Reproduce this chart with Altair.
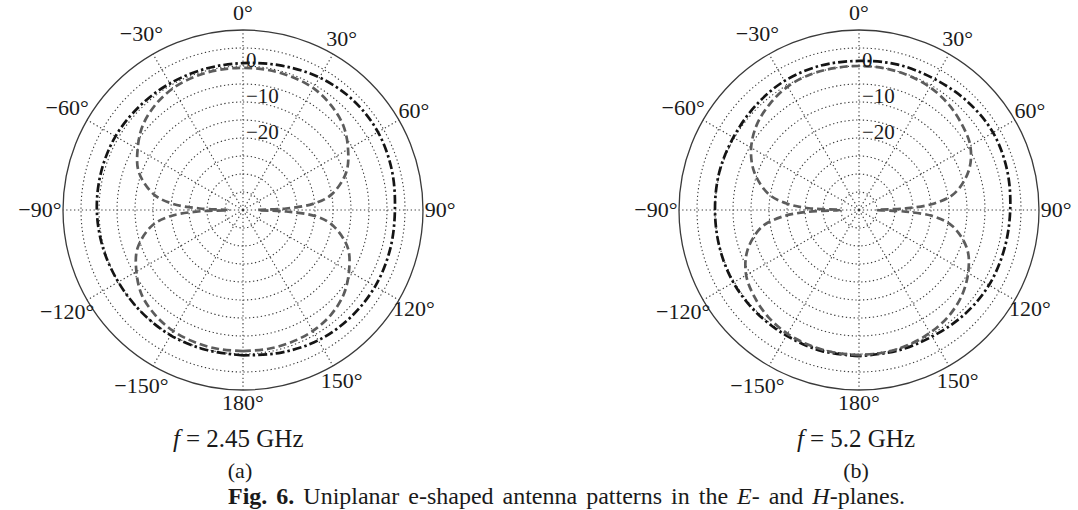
import math
import altair as alt
import pandas as pd

# ---------------- values ----------------
# E-plane (dashed) readings, angle in degrees (0 = top, clockwise), level in dB
ANG_E = [-180, -170, -160, -150, -140, -130, -120, -110, -100, -95, -92, -90, -88, -85,
         -80, -70, -60, -50, -40, -30, -20, -10, 0, 10, 20, 30, 40, 50, 60, 70, 80,
         85, 88, 90, 92, 95, 100, 110, 120, 130, 140, 150, 160, 170, 180]
E_245 = [-0.8, -0.8, -0.9, -1.2, -2.0, -3.3, -5.8, -8.8, -14.2, -19.5, -27.0, -36.0, -28.0, -20.5,
         -14.8, -9.2, -6.2, -3.6, -2.0, -1.0, -0.6, -0.5, -0.5, -0.5, -0.6, -0.9, -2.0, -3.6, -6.3, -9.5, -15.0,
         -20.5, -28.0, -36.0, -28.0, -19.5, -14.5, -9.0, -6.0, -3.5, -2.0, -1.2, -0.9, -0.8, -0.8]
E_52 = [0.3, 0.2, 0.0, -0.3, -1.0, -2.2, -3.8, -7.0, -12.5, -18.5, -26.0, -35.0, -26.0, -20.0,
        -14.5, -9.0, -5.4, -3.0, -1.5, -0.4, 0.0, 0.0, 0.0, 0.0, -0.2, -0.6, -1.5, -2.8, -4.3, -7.5, -13.0,
        -19.0, -27.0, -35.0, -27.0, -19.0, -13.5, -8.0, -5.0, -2.8, -1.4, -0.6, -0.1, 0.2, 0.3]

# H-plane (dash-dot) readings
ANG_H = [-180, -165, -150, -135, -120, -105, -90, -75, -60, -45, -30, -15, 0,
         15, 30, 45, 60, 75, 90, 105, 120, 135, 150, 165, 180]
H_245 = [0.4, 0.2, 0.2, 0.0, 0.0, 0.3, 0.6, 0.8, 0.9, 0.7, 0.6, 0.6, 0.8,
         1.5, 2.5, 3.2, 3.3, 2.8, 2.2, 2.3, 2.4, 2.2, 1.8, 1.0, 0.4]
H_52 = [0.6, 0.5, 0.3, 0.3, 0.3, 0.1, 0.0, 0.2, 0.3, 0.8, 1.4, 1.5, 1.4,
        1.8, 2.0, 2.6, 3.0, 2.6, 2.0, 1.8, 1.7, 1.2, 0.6, 0.5, 0.6]

RING_LEVELS = [-35, -30, -25, -20, -15, -10, -5, 0, 5]
OUTER_LEVEL = [10]
SPOKE_ANGLES = [0, 30, 60, 90, 120, 150, 180, 210, 240, 270, 300, 330]
TICK_ANGLES = [0, 30, 60, 90, 120, 150, 180, -150, -120, -90, -60, -30]
TICK_TEXT = ["0°", "30°", "60°", "90°", "120°", "150°", "180°",
             "−150°", "−120°", "−90°", "−60°", "−30°"]
DB_LABEL_VALUES = [0, -10, -20]
DB_LABEL_TEXT = ["0", "−10", "−20"]
FREQ_TEXT = ["= 2.45 GHz", "= 5.2 GHz"]
PANEL_TAGS = ["(a)", "(b)"]
CAPTION = [("Fig. 6.", "bold"),
           (" Uniplanar e-shaped antenna patterns in the ", "reg"),
           ("E", "ital"), ("- and ", "reg"), ("H", "ital"), ("-planes.", "reg")]

# ---------------- layout / style ----------------
K = 3.6                      # pixels per dB
DB_MIN, DB_MAX = -40, 10
SPAN = DB_MAX - DB_MIN
CX = [243, 859]
CY = 210
X0 = [13, 629]
W = [460, 446]
H = 510
FONT = "Liberation Serif"
INK = "#1a1a1a"
GRID = "#3a3a3a"
CAP_START, CAP_END, CAP_Y, CAP_FS = 228.0, 905.0, 497, 24

# Times/Liberation Serif advance widths (per 1000 em) for caption layout
REG = {' ': 250, 'U': 722, 'n': 500, 'i': 278, 'p': 500, 'l': 278, 'a': 444, 'r': 333,
       'e': 444, '-': 333, 's': 389, 'h': 500, 'd': 500, 't': 278, '.': 250}
BOLD = {'F': 611, 'i': 278, 'g': 500, '.': 250, ' ': 250, '6': 500}
ITAL = {'E': 611, 'H': 722}
TABLES = {"reg": REG, "bold": BOLD, "ital": ITAL}


def text_w(s, style, fs):
    return sum(TABLES[style].get(c, 500) for c in s) * fs / 1000.0


def caption_layers():
    runs = []
    pending = False
    for s, style in CAPTION:
        parts = s.split(" ")
        for j, p in enumerate(parts):
            if j > 0:
                pending = True
            if p:
                runs.append((p, style, pending))
                pending = False
    n_gaps = sum(1 for r in runs if r[2])
    natural = sum(text_w(p, st, CAP_FS) for p, st, _ in runs) + n_gaps * text_w(" ", "reg", CAP_FS)
    gap = text_w(" ", "reg", CAP_FS) + max(0.0, (CAP_END - CAP_START) - natural) / max(n_gaps, 1)
    out = []
    cursor = CAP_START - X0[0]
    for p, style, sp in runs:
        if sp:
            cursor += gap
        mk = dict(font=FONT, fontSize=CAP_FS, color=INK, align="left", baseline="middle")
        if style == "bold":
            mk["fontWeight"] = "bold"
        if style == "ital":
            mk["fontStyle"] = "italic"
        out.append(alt.Chart(pd.DataFrame({"t": [p]}))
                   .mark_text(**mk)
                   .encode(text="t:N", x=alt.value(cursor), y=alt.value(CAP_Y)))
        cursor += text_w(p, style, CAP_FS)
    return out


def panel(idx, e_vals, h_vals):
    xs = alt.Scale(domain=[(X0[idx] - CX[idx]) / K, (X0[idx] + W[idx] - CX[idx]) / K],
                   nice=False, zero=False)
    ys = alt.Scale(domain=[(CY - H) / K, CY / K], nice=False, zero=False)
    # radius measured from the floor level (centre = DB_MIN)
    rs = alt.Scale(type="linear", domain=[0, SPAN], range=[0, SPAN * K])

    def circles(levels, dash, width):
        mk = dict(filled=False, color=GRID, strokeWidth=width, theta=0, theta2=2 * math.pi)
        if dash:
            mk["strokeDash"] = dash
        return (alt.Chart(pd.DataFrame({"lev": levels}))
                .transform_calculate(c0="0", rr=f"datum.lev - ({DB_MIN})")
                .mark_arc(**mk)
                .encode(x=alt.X("c0:Q", scale=xs, axis=None),
                        y=alt.Y("c0:Q", scale=ys, axis=None),
                        radius=alt.Radius("rr:Q", scale=rs, stack=False),
                        radius2=alt.value(0)))

    rings = circles(RING_LEVELS, [1.3, 2.6], 1.1)
    outer = circles(OUTER_LEVEL, None, 1.3)

    spokes = (alt.Chart(pd.DataFrame({"a": SPOKE_ANGLES}))
              .transform_calculate(x0="0", y0="0",
                                   x1=f"{SPAN}*sin(datum.a*PI/180)",
                                   y1=f"{SPAN}*cos(datum.a*PI/180)")
              .mark_rule(color=GRID, strokeWidth=1.1, strokeDash=[1.3, 2.6])
              .encode(x=alt.X("x0:Q", scale=xs, axis=None),
                      y=alt.Y("y0:Q", scale=ys, axis=None),
                      x2="x1:Q", y2="y1:Q"))

    def curve(angles, vals, color, dash, width):
        df = pd.DataFrame({"a": angles, "db": vals, "i": list(range(len(angles)))})
        return (alt.Chart(df)
                .transform_calculate(r=f"max(datum.db - ({DB_MIN}), 0)")
                .transform_calculate(px="datum.r*sin(datum.a*PI/180)",
                                     py="datum.r*cos(datum.a*PI/180)")
                .mark_line(color=color, strokeWidth=width, strokeDash=dash,
                           interpolate="catmull-rom")
                .encode(x=alt.X("px:Q", scale=xs, axis=None),
                        y=alt.Y("py:Q", scale=ys, axis=None),
                        order=alt.Order("i:Q")))

    h_line = curve(ANG_H, h_vals, "#141414", [9, 3, 2.5, 3], 2.7)
    e_line = curve(ANG_E, e_vals, "#5c5c5c", [8, 4], 2.7)

    ticks = (alt.Chart(pd.DataFrame({"a": TICK_ANGLES, "t": TICK_TEXT}))
             .transform_calculate(rl="54.8 + (datum.a < 0 ? 1.6 : 0) - (datum.a == 180 ? 1.3 : 0)")
             .transform_calculate(lx="datum.rl*sin(datum.a*PI/180)",
                                  ly="datum.rl*cos(datum.a*PI/180)")
             .mark_text(font=FONT, fontSize=22, color=INK, align="center", baseline="middle")
             .encode(x=alt.X("lx:Q", scale=xs, axis=None),
                     y=alt.Y("ly:Q", scale=ys, axis=None),
                     text="t:N"))

    dbl = (alt.Chart(pd.DataFrame({"v": DB_LABEL_VALUES, "t": DB_LABEL_TEXT}))
           .transform_calculate(lx="0", ly=f"datum.v - ({DB_MIN})")
           .mark_text(font=FONT, fontSize=21, color=INK, align="left", baseline="middle",
                      dx=3, dy=-5)
           .encode(x=alt.X("lx:Q", scale=xs, axis=None),
                   y=alt.Y("ly:Q", scale=ys, axis=None),
                   text="t:N"))

    fs = 25
    f_left = [173, 797][idx] - X0[idx]
    f_y = 439
    f_it = (alt.Chart(pd.DataFrame({"t": ["f"]}))
            .mark_text(font=FONT, fontSize=fs, fontStyle="italic", color=INK,
                       align="left", baseline="middle")
            .encode(text="t:N", x=alt.value(f_left), y=alt.value(f_y)))
    f_rest = (alt.Chart(pd.DataFrame({"t": [FREQ_TEXT[idx]]}))
              .mark_text(font=FONT, fontSize=fs, color=INK, align="left", baseline="middle")
              .encode(text="t:N", x=alt.value(f_left + 0.278 * fs + 6), y=alt.value(f_y)))
    tag = (alt.Chart(pd.DataFrame({"t": [PANEL_TAGS[idx]]}))
           .mark_text(font=FONT, fontSize=22, color=INK, align="center", baseline="middle")
           .encode(text="t:N", x=alt.value(CX[idx] - 3 - X0[idx]), y=alt.value(471)))

    layers = [rings, spokes, outer, h_line, e_line, ticks, dbl, f_it, f_rest, tag]
    if idx == 0:
        layers += caption_layers()

    return alt.layer(*layers).properties(width=W[idx], height=H)


left = panel(0, E_245, H_245)
right = panel(1, E_52, H_52)

chart = (alt.hconcat(left, right, spacing=X0[1] - (X0[0] + W[0]), bounds="flush")
         .properties(padding={"left": X0[0], "top": 0, "right": 1078 - X0[1] - W[1], "bottom": 0},
                     background="white")
         .configure_view(stroke=None)
         .configure_axis(disable=True))

chart.save("out.html", embed_options={"renderer": "svg", "actions": False})
